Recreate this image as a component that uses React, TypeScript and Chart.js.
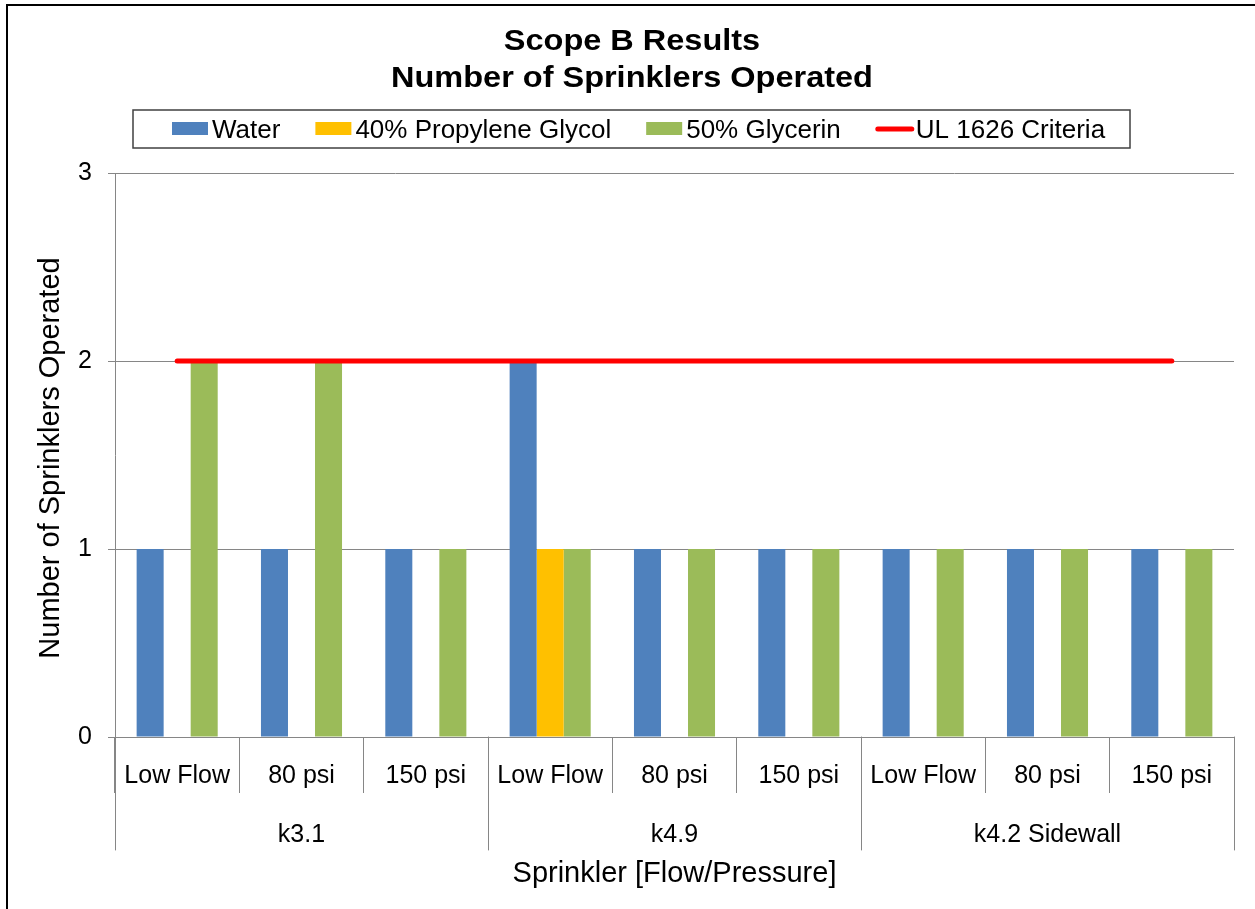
import React, { useEffect, useRef } from "react";
import { Chart, registerables } from "chart.js";

Chart.register(...registerables);

const subCategories = ["Low Flow", "80 psi", "150 psi", "Low Flow", "80 psi", "150 psi", "Low Flow", "80 psi", "150 psi"];
const groupLabels = ["k3.1", "k4.9", "k4.2 Sidewall"];
const groupSize = 3;
const waterValues = [1, 1, 1, 2, 1, 1, 1, 1, 1];
const propyleneValues = [0, 0, 0, 1, 0, 0, 0, 0, 0];
const glycerinValues = [2, 2, 1, 1, 1, 1, 1, 1, 1];
const criteriaValues = [2, 2, 2, 2, 2, 2, 2, 2, 2];
const yTicks = [0, 1, 2, 3];
const titleLines = ["Scope B Results", "Number of Sprinklers Operated"];
const xTitle = "Sprinkler [Flow/Pressure]";
const yTitle = "Number of Sprinklers Operated";

const FONT = "'Liberation Sans', Arial, sans-serif";
const AXIS_GRAY = "#868686";

const decorPlugin = {
  id: "decor",
  afterDraw(chart: any) {
    const ctx = chart.ctx as CanvasRenderingContext2D;
    const area = chart.chartArea;
    const xs = chart.scales.x;
    ctx.save();

    // outer frame (left and top edges visible)
    ctx.fillStyle = "#000";
    ctx.fillRect(6, 4, 2, 905);
    ctx.fillRect(6, 4, 1249, 2);

    // title
    ctx.fillStyle = "#000";
    ctx.textAlign = "center";
    ctx.textBaseline = "alphabetic";
    ctx.font = `bold 29px ${FONT}`;
    const titleBase = [50, 87];
    titleLines.forEach((t, i) => {
      ctx.save();
      ctx.translate(632, titleBase[i]);
      ctx.scale(1.12, 1);
      ctx.fillText(t, 0, 0);
      ctx.restore();
    });

    // legend
    ctx.strokeStyle = "#404040";
    ctx.lineWidth = 1.5;
    ctx.strokeRect(133, 110, 997, 38);
    ctx.font = `26px ${FONT}`;
    ctx.textAlign = "left";
    let lx = 172;
    chart.data.datasets.forEach((ds: any) => {
      if (ds.type === "line") {
        ctx.strokeStyle = ds.borderColor;
        ctx.lineWidth = 5;
        ctx.lineCap = "round";
        ctx.beginPath();
        ctx.moveTo(lx + 2, 129);
        ctx.lineTo(lx + 36, 129);
        ctx.stroke();
      } else {
        ctx.fillStyle = ds.backgroundColor;
        ctx.fillRect(lx, 122, 36, 13);
      }
      ctx.fillStyle = "#000";
      ctx.fillText(ds.label, lx + 40, 138);
      lx += 40 + ctx.measureText(ds.label).width + 35;
    });

    // x category labels
    ctx.textAlign = "center";
    ctx.font = `25px ${FONT}`;
    subCategories.forEach((lab, i) => {
      ctx.fillText(lab, xs.getPixelForValue(i), 783);
    });
    // group labels and group separators
    const half = (xs.getPixelForValue(1) - xs.getPixelForValue(0)) / 2;
    ctx.strokeStyle = AXIS_GRAY;
    ctx.lineWidth = 1;
    for (let g = 0; g <= groupLabels.length; g++) {
      const idx = g * groupSize;
      const x = Math.round(
        idx < subCategories.length ? xs.getPixelForValue(idx) - half : xs.getPixelForValue(subCategories.length - 1) + half
      ) + 0.5;
      ctx.beginPath();
      ctx.moveTo(x, area.bottom);
      ctx.lineTo(x, 850);
      ctx.stroke();
    }
    groupLabels.forEach((lab, g) => {
      const cx = (xs.getPixelForValue(g * groupSize) + xs.getPixelForValue(g * groupSize + groupSize - 1)) / 2;
      ctx.fillStyle = "#000";
      ctx.fillText(lab, cx, 842);
    });

    // axis titles
    ctx.font = `29px ${FONT}`;
    ctx.fillText(xTitle, (area.left + area.right) / 2, 882);
    ctx.save();
    ctx.translate(59, (area.top + area.bottom) / 2 + 3);
    ctx.rotate(-Math.PI / 2);
    ctx.fillText(yTitle, 0, 0);
    ctx.restore();

    ctx.restore();
  },
};

export default function App() {
  const ref = useRef<HTMLCanvasElement>(null);
  useEffect(() => {
    if (!ref.current) return;
    const chart = new Chart(ref.current, {
      type: "bar",
      data: {
        labels: subCategories,
        datasets: [
          { label: "Water", data: waterValues, backgroundColor: "#4F81BD", order: 1, barPercentage: 1, categoryPercentage: 0.652 },
          { label: "40% Propylene Glycol", data: propyleneValues, backgroundColor: "#FFC000", order: 1, barPercentage: 1, categoryPercentage: 0.652 },
          { label: "50% Glycerin", data: glycerinValues, backgroundColor: "#9BBB59", order: 1, barPercentage: 1, categoryPercentage: 0.652 },
          {
            type: "line",
            label: "UL 1626 Criteria",
            data: criteriaValues,
            borderColor: "#FF0000",
            backgroundColor: "#FF0000",
            borderWidth: 5,
            borderCapStyle: "round",
            pointRadius: 0,
            order: 0,
          } as any,
        ],
      },
      options: {
        animation: false,
        responsive: false,
        layout: { padding: { top: 173, right: 21, left: 0, bottom: 0 } },
        plugins: { legend: { display: false }, title: { display: false }, tooltip: { enabled: false } },
        scales: {
          x: {
            type: "category",
            offset: true,
            grid: { offset: true, drawOnChartArea: false, drawTicks: true, tickLength: 56, color: AXIS_GRAY, lineWidth: 1 },
            border: { display: true, color: AXIS_GRAY, width: 1 },
            ticks: { display: false },
            afterFit: (s: any) => { s.height = 172; },
          },
          y: {
            min: 0,
            max: 3,
            afterBuildTicks: (s: any) => { s.ticks = yTicks.map((v) => ({ value: v })); },
            ticks: { color: "#000", font: { family: FONT, size: 25 }, padding: 16 },
            grid: { color: AXIS_GRAY, lineWidth: 1, tickLength: 7 },
            border: { display: true, color: AXIS_GRAY, width: 1 },
            afterFit: (s: any) => { s.width = 115; },
          },
        },
      },
      plugins: [decorPlugin],
    });
    return () => chart.destroy();
  }, []);
  return (
    <div style={{ position: "absolute", left: 0, top: 0, width: 1255, height: 909, background: "#fff" }}>
      <canvas ref={ref} width={1255} height={909} style={{ display: "block" }} />
    </div>
  );
}
